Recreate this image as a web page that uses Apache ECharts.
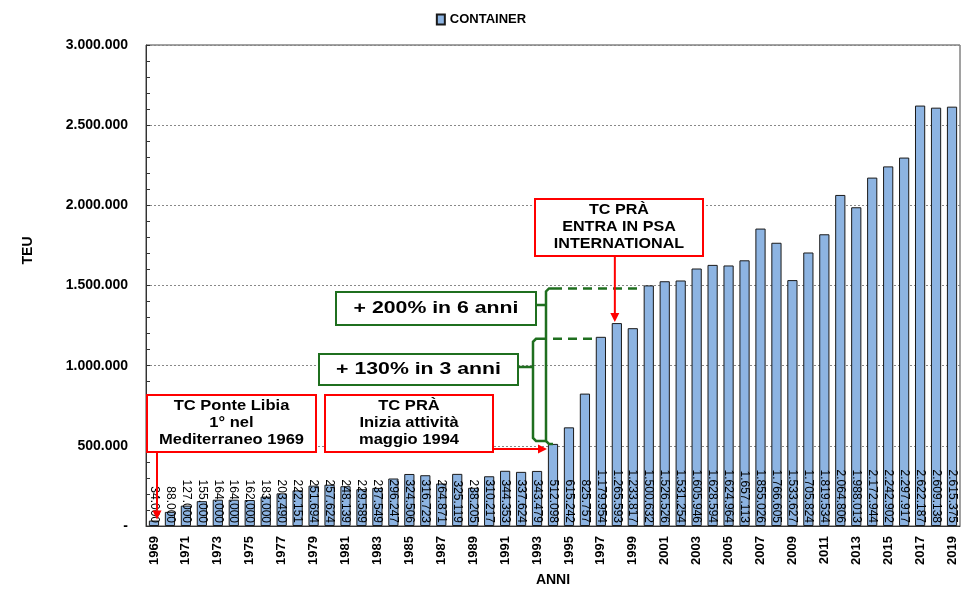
<!DOCTYPE html>
<html><head><meta charset="utf-8">
<script src="https://cdn.jsdelivr.net/npm/echarts@6/dist/echarts.min.js"></script>
<style>html,body{margin:0;padding:0;background:#fff}#c{width:962px;height:592px}</style>
</head><body><div id="c"></div>
<script>
const years = ['1969','1970','1971','1972','1973','1974','1975','1976','1977','1978','1979','1980','1981','1982','1983','1984','1985','1986','1987','1988','1989','1990','1991','1992','1993','1994','1995','1996','1997','1998','1999','2000','2001','2002','2003','2004','2005','2006','2007','2008','2009','2010','2011','2012','2013','2014','2015','2016','2017','2018','2019'];
const teu = [34000,88000,127000,155000,164000,164000,162000,183000,203490,222151,251694,257624,248139,229589,237549,296247,324506,316723,264871,325119,238205,310217,344353,337624,343479,512098,615242,825757,1179954,1265593,1233817,1500632,1526526,1531254,1605946,1628594,1624964,1657113,1855026,1766605,1533627,1705824,1819534,2064806,1988013,2172944,2242902,2297917,2622187,2609138,2615375];
const seriesName = 'CONTAINER';
const yMax = 3000000, yStep = 500000;
const redNotes = [
  {text:'TC Ponte Libia\n1° nel\nMediterraneo 1969', year:'1969'},
  {text:'TC PRÀ\nInizia attività\nmaggio 1994', year:'1994'},
  {text:'TC PRÀ\nENTRA IN PSA\nINTERNATIONAL', year:'1998'}
];
const greenNotes = [
  {text:'+ 200% in 6 anni', from:'1994', to:'2000'},
  {text:'+ 130% in 3 anni', from:'1994', to:'1997'}
];

const fmt = v => v === 0 ? '-' : String(v).replace(/\B(?=(\d{3})+(?!\d))/g, '.');
const chart = echarts.init(document.getElementById('c'));
const FONT = '"Liberation Sans", Arial, sans-serif';
chart.setOption({
  animation: false,
  textStyle: {fontFamily: FONT},
  legend: {top: 8, left: 'center', itemWidth: 8, itemHeight: 10, itemGap: 4,
    textStyle: {fontWeight: 'bold', fontSize: 13, color: '#000'}, icon: 'rect'},
  grid: {left: 146, right: 2, top: 45, bottom: 66, show: true, borderColor: '#444', borderWidth: 1},
  xAxis: {type: 'category', data: years,
    name: 'ANNI', nameLocation: 'middle', nameGap: 47,
    nameTextStyle: {fontWeight: 'bold', fontSize: 14, color: '#000'},
    axisLine: {lineStyle: {color: '#333'}}, axisTick: {show: false},
    axisLabel: {interval: 1, rotate: 90, fontWeight: 'bold', fontSize: 13, color: '#000', margin: 10}},
  yAxis: {type: 'value', min: 0, max: yMax, interval: yStep,
    name: 'TEU', nameLocation: 'middle', nameGap: 111,
    nameTextStyle: {fontWeight: 'bold', fontSize: 14, color: '#000', padding: [0, 0, 0, 70]},
    axisLine: {show: true, lineStyle: {color: '#333'}},
    axisTick: {show: true, inside: true, length: 4, lineStyle: {color: '#333'}},
    minorTick: {show: true, splitNumber: 5, length: 4, lineStyle: {color: '#333'}},
    splitLine: {lineStyle: {color: '#888', type: [2, 2]}},
    axisLabel: {formatter: fmt, fontWeight: 'bold', fontSize: 14, color: '#000', margin: 18}},
  series: [{name: seriesName, type: 'bar', data: teu, barCategoryGap: '36%',
    itemStyle: {color: '#8DB4E2', borderColor: '#1a1a1a', borderWidth: 1},
    label: {show: true, position: 'insideBottom', distance: 3, rotate: -90, align: 'right', verticalAlign: 'middle',
      formatter: p => fmt(p.value), fontSize: 12, color: '#000'}}]
});

function px(year, val) { return chart.convertToPixel({gridIndex: 0}, [year, val]); }
function arrow(x1, y1, x2, y2, color, w) {
  const a = Math.atan2(y2 - y1, x2 - x1), L = 9, W = 4.5;
  const bx = x2 - L * Math.cos(a), by = y2 - L * Math.sin(a);
  return [
    {type: 'line', shape: {x1, y1, x2: bx, y2: by}, style: {stroke: color, lineWidth: w}, z: 100},
    {type: 'polygon', shape: {points: [[x2, y2], [bx + W * Math.sin(a), by - W * Math.cos(a)], [bx - W * Math.sin(a), by + W * Math.cos(a)]]}, style: {fill: color}, z: 100}
  ];
}
function box(x, y, w, h, color, text, font, sx, lh) {
  return [
    {type: 'rect', shape: {x, y, width: w, height: h}, style: {fill: '#fff', stroke: color, lineWidth: 2}, z: 100},
    {type: 'text', x: x + w / 2, y: y + h / 2, scaleX: sx, z: 101,
      style: {text, font, fill: '#000', align: 'center', verticalAlign: 'middle', lineHeight: lh}}
  ];
}
const RED = '#FF0000', GREEN = '#1F6F1F';
const redFont = 'bold 14px ' + FONT, greenFont = 'bold 17px ' + FONT;
let g = [];
// red notes
const p69 = px(redNotes[0].year, teu[0]);
g = g.concat(box(147, 395, 169, 57, RED, redNotes[0].text, redFont, 1.18, 17));
g = g.concat(arrow(p69[0] + 3, 452, p69[0] + 3, p69[1] - 1, RED, 2));
const i94 = years.indexOf(redNotes[1].year);
const p94 = px(redNotes[1].year, teu[i94]);
g = g.concat(box(325, 395, 168, 57, RED, redNotes[1].text, redFont, 1.18, 17));
g = g.concat(arrow(493, 449, p94[0] - 6, 449, RED, 2));
const i98 = years.indexOf(redNotes[2].year);
const p98 = px(redNotes[2].year, teu[i98]);
g = g.concat(box(535, 199, 168, 57, RED, redNotes[2].text, redFont, 1.15, 17));
g = g.concat(arrow(p98[0] - 2, 256, p98[0] - 2, p98[1] - 1, RED, 2));
// green notes
const i00 = years.indexOf(greenNotes[0].to), i97 = years.indexOf(greenNotes[1].to);
const p00 = px(greenNotes[0].to, teu[i00]);
const p97 = px(greenNotes[1].to, teu[i97]);
const yb = p94[1];
g = g.concat(box(336, 292, 200, 33, GREEN, greenNotes[0].text, greenFont, 1.25, 20));
g = g.concat(box(319, 354, 199, 31, GREEN, greenNotes[1].text, greenFont, 1.25, 20));
const bs = {stroke: GREEN, lineWidth: 2.5, fill: null};
// outer brace
g.push({type: 'polyline', z: 99, shape: {points: [[553, p00[1] + 3], [549, p00[1] + 3], [546, p00[1] + 6], [546, yb - 3], [549, yb], [553, yb]]}, style: bs});
g.push({type: 'line', z: 99, shape: {x1: 536, y1: 305, x2: 546, y2: 305}, style: bs});
// inner brace
g.push({type: 'polyline', z: 99, shape: {points: [[545, p97[1] + 2], [536, p97[1] + 2], [533, p97[1] + 5], [533, yb - 6], [536, yb - 3], [546, yb - 3]]}, style: bs});
g.push({type: 'line', z: 99, shape: {x1: 518, y1: 367, x2: 533, y2: 367}, style: bs});
// dashed guide lines
g.push({type: 'line', z: 99, shape: {x1: 553, y1: p00[1] + 3, x2: p00[0] - 6, y2: p00[1] + 3}, style: {stroke: GREEN, lineWidth: 2.5, lineDash: [9, 6]}});
g.push({type: 'line', z: 99, shape: {x1: 553, y1: p97[1] + 2, x2: p97[0] - 6, y2: p97[1] + 2}, style: {stroke: GREEN, lineWidth: 2.5, lineDash: [9, 6]}});
chart.setOption({graphic: g});
</script>
</body></html>
